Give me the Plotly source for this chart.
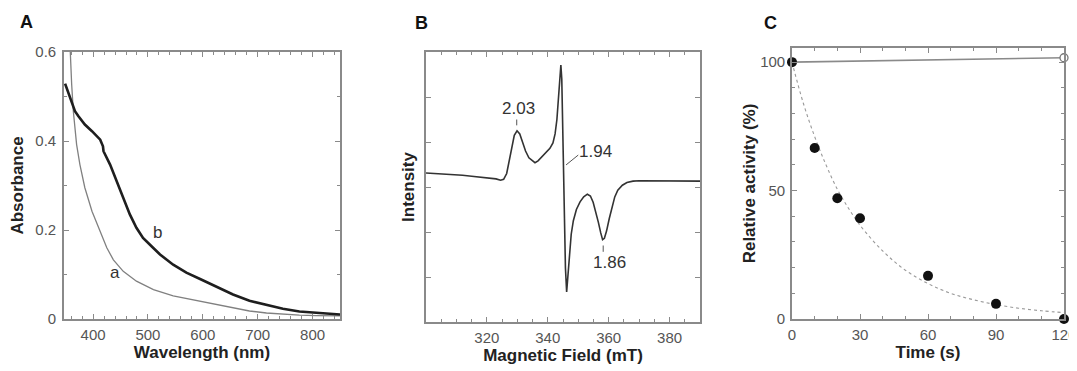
import plotly.graph_objects as go

# ---------------- Panel A: absorbance spectra ----------------
wl_b = [349, 358, 367, 373, 385, 398, 413, 418, 419, 431, 443, 455, 467, 479, 491, 507, 522,
        546, 570, 595, 625, 655, 685, 716, 746, 776, 806, 830, 850]
abs_b = [0.529, 0.497, 0.467, 0.456, 0.437, 0.422, 0.403, 0.388, 0.377, 0.347, 0.310, 0.272,
         0.235, 0.205, 0.182, 0.163, 0.145, 0.122, 0.104, 0.090, 0.073, 0.055, 0.041, 0.031,
         0.023, 0.017, 0.0135, 0.011, 0.010]
wl_a = [355, 358, 361, 364, 370, 376, 385, 398, 410, 416, 425, 437, 455, 479, 510, 546, 582,
        600, 625, 655, 685, 716, 746, 776, 806, 830, 850]
abs_a = [0.70, 0.602, 0.527, 0.467, 0.392, 0.347, 0.295, 0.242, 0.205, 0.186, 0.160, 0.133,
         0.107, 0.085, 0.066, 0.052, 0.043, 0.040, 0.033, 0.025, 0.018, 0.0135, 0.0104,
         0.0085, 0.0078, 0.0072, 0.007]

# ---------------- Panel B: EPR spectrum ----------------
field = [300, 303, 306, 309, 312, 315, 318, 321, 323, 324.5, 325.5, 326.5, 327.3, 328.2, 329.0,
         329.9, 330.8, 331.7, 332.7, 333.8, 335.0, 335.8, 336.8, 338.0, 339.5, 340.7, 341.7,
         342.4, 343.0, 343.5, 344.0, 344.3, 344.6, 344.9, 345.2, 345.5, 345.8, 346.2, 346.6,
         347.1, 347.7, 348.4, 349.4, 350.6, 351.8, 353.0, 354.0, 354.9, 355.8, 356.6, 357.4,
         358.0, 358.6, 359.3, 360.2, 361.0, 362.0, 363.0, 364.5, 366.0, 368.0, 370, 375, 380,
         385, 390]
intensity = [3.31, 3.30, 3.29, 3.27, 3.26, 3.24, 3.22, 3.20, 3.18, 3.15, 3.17, 3.30, 3.55, 3.90,
             4.15, 4.25, 4.18, 4.00, 3.80, 3.65, 3.57, 3.54, 3.58, 3.66, 3.76, 3.86, 3.98, 4.18,
             4.50, 4.95, 5.50, 5.71, 5.40, 4.40, 3.30, 2.10, 1.20, 0.67, 1.00, 1.55, 1.95, 2.25,
             2.50, 2.67, 2.78, 2.84, 2.80, 2.66, 2.45, 2.22, 1.98, 1.83, 1.86, 2.02, 2.30, 2.53,
             2.78, 2.93, 3.04, 3.10, 3.13, 3.14, 3.14, 3.13, 3.13, 3.13]
g_labels = ["2.03", "1.94", "1.86"]
g_label_x = [330.5, 355.8, 360.4]
g_label_y = [4.75, 3.78, 1.33]

# ---------------- Panel C: inactivation time course ----------------
time_filled = [0, 10, 20, 30, 60, 90, 120]
activity_filled = [100, 66.6, 47.0, 39.2, 16.8, 5.9, 0]
time_open = [0, 120]
activity_open = [100, 101.7]
time_fit = [0, 5, 10, 15, 20, 25, 30, 40, 50, 60, 70, 80, 90, 100, 110, 120]
activity_fit = [100, 84, 71, 60, 50.5, 43, 36.5, 26.5, 19, 13.8, 10, 7.5, 5.6, 4.2, 3.2, 2.5]

FONT = "Liberation Sans, Arial, sans-serif"
AXC = "#8a8a8a"
TICKF = dict(family=FONT, size=15, color="#555555")
TITLEF = dict(family=FONT, size=17, color="#222222")

fig = go.Figure()

# Panel A traces
fig.add_trace(go.Scatter(x=wl_a, y=abs_a, mode="lines", line=dict(color="#808080", width=1.3),
                         xaxis="x", yaxis="y", showlegend=False))
fig.add_trace(go.Scatter(x=wl_b, y=abs_b, mode="lines", line=dict(color="#1e1e1e", width=2.6),
                         xaxis="x", yaxis="y", showlegend=False))

# Panel B trace
fig.add_trace(go.Scatter(x=field, y=intensity, mode="lines", line=dict(color="#333333", width=1.6),
                         xaxis="x2", yaxis="y2", showlegend=False))

# Panel C traces
fig.add_trace(go.Scatter(x=time_fit, y=activity_fit, mode="lines", line_shape="spline",
                         line=dict(color="#9a9a9a", width=1.1, dash="dot"),
                         xaxis="x3", yaxis="y3", showlegend=False))
fig.add_trace(go.Scatter(x=time_open, y=activity_open, mode="lines",
                         line=dict(color="#8a8a8a", width=1.6),
                         xaxis="x3", yaxis="y3", showlegend=False, cliponaxis=False))
fig.add_trace(go.Scatter(x=time_open[1:], y=activity_open[1:], mode="markers",
                         marker=dict(color="white", size=8, line=dict(color="#777777", width=1.3)),
                         xaxis="x3", yaxis="y3", showlegend=False, cliponaxis=False))
fig.add_trace(go.Scatter(x=time_filled, y=activity_filled, mode="markers",
                         marker=dict(color="#111111", size=10),
                         xaxis="x3", yaxis="y3", showlegend=False, cliponaxis=False))

# the page body has an 8px margin, so the figure is placed 8px right/down
OFF = 8
W, H = 1077 - OFF, 371 - OFF


def dom_x(a, b):
    return [(a - OFF) / W, (b - OFF) / W]


def dom_y(top, bottom):
    return [1 - (bottom - OFF) / H, 1 - (top - OFF) / H]


common = dict(showline=True, linecolor=AXC, linewidth=1.6, mirror="allticks", ticks="inside",
              tickcolor=AXC, tickwidth=1.2, showgrid=False, zeroline=False, tickfont=TICKF,
              automargin=False, tickmode="linear")


def minor(d):
    return dict(dtick=d, tick0=0, ticklen=3, tickcolor=AXC, tickwidth=1, ticks="inside",
                showgrid=False)


fig.update_layout(
    width=W, height=H,
    margin=dict(l=0, r=0, t=0, b=0, autoexpand=False),
    paper_bgcolor="white", plot_bgcolor="white",
    font=dict(family=FONT),
    xaxis=dict(domain=dom_x(64, 340), range=[347, 850], anchor="y", tick0=0, dtick=100, ticklen=5,
               minor=minor(20), ticklabelstandoff=1,
               title=dict(text="<b>Wavelength (nm)</b>", font=TITLEF, standoff=2), **common),
    yaxis=dict(domain=dom_y(52, 319), range=[0, 0.6], anchor="x", tick0=0, dtick=0.2, ticklen=5,
               minor=minor(0.1), ticklabelstandoff=3,
               title=dict(text="<b>Absorbance</b>", font=TITLEF, standoff=8), **common),
    xaxis2=dict(domain=dom_x(426, 700), range=[300, 390], anchor="y2", tick0=0, dtick=20,
                ticklen=5, minor=minor(5), ticklabelstandoff=1, labelalias={"300": ""},
                title=dict(text="<b>Magnetic Field (mT)</b>", font=TITLEF, standoff=2), **common),
    yaxis2=dict(domain=dom_y(52, 322), range=[0, 6], anchor="x2", tick0=0, dtick=1,
                showticklabels=False, ticklen=5,
                title=dict(text="<b>Intensity</b>", font=TITLEF, standoff=5), **common),
    xaxis3=dict(domain=dom_x(792, 1064), range=[0, 120], anchor="y3", tick0=0, dtick=30,
                ticklen=5, minor=minor(10), ticklabelstandoff=1,
                title=dict(text="<b>Time (s)</b>", font=TITLEF, standoff=2), **common),
    yaxis3=dict(domain=dom_y(48, 319), range=[0, 105.5], anchor="x3", tick0=0, dtick=50,
                ticklen=5, minor=minor(10), ticklabelstandoff=2,
                title=dict(text="<b>Relative activity (%)</b>", font=TITLEF, standoff=0), **common),
)

ann = []
# panel letters
for letter, px, py in [("A", 26, 22), ("B", 421, 23), ("C", 770, 23)]:
    ann.append(dict(text="<b>%s</b>" % letter, x=(px - OFF) / W, y=1 - (py - OFF) / H,
                    xref="paper", yref="paper",
                    showarrow=False, font=dict(family=FONT, size=18, color="#111111"),
                    xanchor="center", yanchor="middle"))
# curve labels in A
ann.append(dict(text="a", x=440, y=0.104, xref="x", yref="y", showarrow=False,
                font=dict(family=FONT, size=17, color="#333333")))
ann.append(dict(text="b", x=517, y=0.194, xref="x", yref="y", showarrow=False,
                font=dict(family=FONT, size=17, color="#333333")))
# g-value labels in B
for t, gx, gy in zip(g_labels, g_label_x, g_label_y):
    ann.append(dict(text=t, x=gx, y=gy, xref="x2", yref="y2", showarrow=False,
                    font=dict(family=FONT, size=17, color="#333333")))
fig.update_layout(annotations=ann)

# small leader marks for g-values
shapes = [
    dict(type="line", xref="x2", yref="y2", x0=329.8, x1=329.8, y0=4.37, y1=4.50,
         line=dict(color="#555555", width=1)),
    dict(type="line", xref="x2", yref="y2", x0=346.0, x1=350.0, y0=3.49, y1=3.71,
         line=dict(color="#555555", width=1)),
    dict(type="line", xref="x2", yref="y2", x0=358.2, x1=358.2, y0=1.56, y1=1.70,
         line=dict(color="#555555", width=1)),
]
fig.update_layout(shapes=shapes)

fig.write_html("out.html")
